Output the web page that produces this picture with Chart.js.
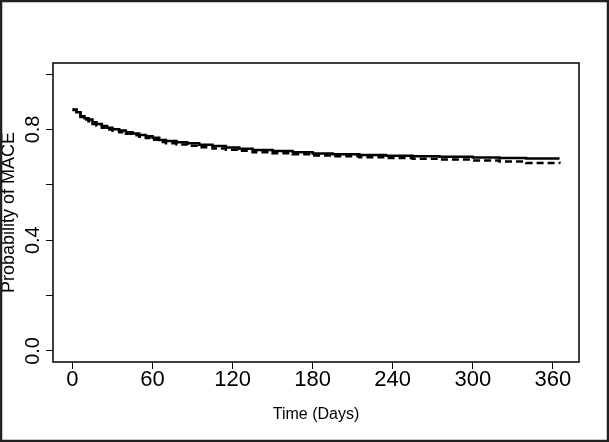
<!DOCTYPE html>
<html>
<head>
<meta charset="utf-8">
<script src="https://cdn.jsdelivr.net/npm/chart.js@4/dist/chart.umd.min.js"></script>
<style>
  html, body { margin: 0; padding: 0; background: #fff; }
  canvas { display: block; }
</style>
</head>
<body>
<canvas id="km" width="609" height="442"></canvas>
<script>
// survival curve steps
const timeDays = [0, 3, 6, 9, 12, 15, 18, 22, 26, 30, 35, 40, 45, 50, 55, 60, 65, 70, 78, 86,
                  95, 105, 115, 125, 135, 150, 165, 180, 195, 215, 235, 255, 275, 300, 320, 340, 365];
const solidProb = [0.872, 0.862, 0.848, 0.840, 0.836, 0.826, 0.820, 0.812, 0.806, 0.801, 0.796, 0.790,
                   0.785, 0.780, 0.775, 0.770, 0.762, 0.758, 0.754, 0.750, 0.745, 0.740, 0.735, 0.730,
                   0.726, 0.722, 0.718, 0.713, 0.710, 0.708, 0.705, 0.703, 0.701, 0.699, 0.697, 0.695, 0.695];
const dashedProb = [0.870, 0.858, 0.845, 0.836, 0.830, 0.820, 0.813, 0.806, 0.800, 0.795, 0.790, 0.784,
                    0.779, 0.774, 0.769, 0.763, 0.755, 0.750, 0.746, 0.741, 0.736, 0.731, 0.727, 0.723,
                    0.718, 0.714, 0.710, 0.706, 0.703, 0.700, 0.697, 0.694, 0.691, 0.688, 0.684, 0.679, 0.677];

const xTicks = [0, 60, 120, 180, 240, 300, 360];
const yTicks = [0, 0.2, 0.4, 0.6, 0.8, 1.0];
const yLabeled = [0, 0.4, 0.8];

function toPoints(xs, ys) {
    return xs.map((x, i) => ({ x: x, y: ys[i] }));
}

// box round the plot and the frame round the whole picture
const framePlugin = {
    id: 'frame',
    afterDraw(chart) {
        const ctx = chart.ctx;
        const a = chart.chartArea;
        ctx.save();
        ctx.strokeStyle = '#000';
        ctx.lineWidth = 1.5;
        ctx.strokeRect(a.left, a.top, a.right - a.left, a.bottom - a.top);
        ctx.strokeStyle = '#222';
        ctx.lineWidth = 2.5;
        ctx.strokeRect(1, 1, chart.width - 2, chart.height - 2);
        ctx.restore();
    }
};

new Chart(document.getElementById('km'), {
    type: 'line',
    data: {
        datasets: [{
                data: toPoints(timeDays, solidProb),
                borderColor: '#000',
                borderWidth: 2.5,
                pointRadius: 0,
                stepped: true,
                fill: false
            }, {
                data: toPoints(timeDays, dashedProb),
                borderColor: '#000',
                borderWidth: 2.5,
                borderDash: [7, 4],
                pointRadius: 0,
                stepped: true,
                fill: false
            }]
    },
    options: {
        responsive: false,
        animation: false,
        layout: {
            padding: { top: 63, right: 30, left: 0, bottom: 0 }
        },
        scales: {
            x: {
                type: 'linear',
                min: -14.6,
                max: 379.6,
                afterBuildTicks: s => { s.ticks = xTicks.map(v => ({ value: v })); },
                afterFit: s => { s.height = 80; },
                border: { display: false },
                grid: { drawOnChartArea: false, drawTicks: true, tickLength: 7, color: '#000', lineWidth: 1 },
                ticks: {
                    autoSkip: false,
                    maxRotation: 0,
                    padding: 0,
                    color: '#000',
                    font: { family: "'Liberation Sans', Arial, sans-serif", size: 22, lineHeight: 1 }
                },
                title: {
                    display: true,
                    text: 'Time (Days)',
                    color: '#000',
                    padding: { top: 0, bottom: 18 },
                    font: { family: "'Liberation Sans', Arial, sans-serif", size: 16 }
                }
            },
            y: {
                min: -0.04,
                max: 1.04,
                afterBuildTicks: s => { s.ticks = yTicks.map(v => ({ value: v })); },
                afterFit: s => { s.width = 53; },
                border: { display: false },
                grid: { drawOnChartArea: false, drawTicks: true, tickLength: 7, color: '#000', lineWidth: 1 },
                ticks: {
                    autoSkip: false,
                    minRotation: 90,
                    maxRotation: 90,
                    crossAlign: 'center',
                    padding: -1,
                    color: '#000',
                    font: { family: "'Liberation Sans', Arial, sans-serif", size: 20 },
                    callback: v => yLabeled.some(l => Math.abs(l - v) < 1e-9) ? v.toFixed(1) : ''
                },
                title: {
                    display: true,
                    text: 'Probability of MACE',
                    color: '#000',
                    padding: 0,
                    font: { family: "'Liberation Sans', Arial, sans-serif", size: 18, lineHeight: 1 }
                }
            }
        },
        plugins: {
            legend: { display: false },
            tooltip: { enabled: false }
        }
    },
    plugins: [framePlugin]
});
</script>
</body>
</html>
